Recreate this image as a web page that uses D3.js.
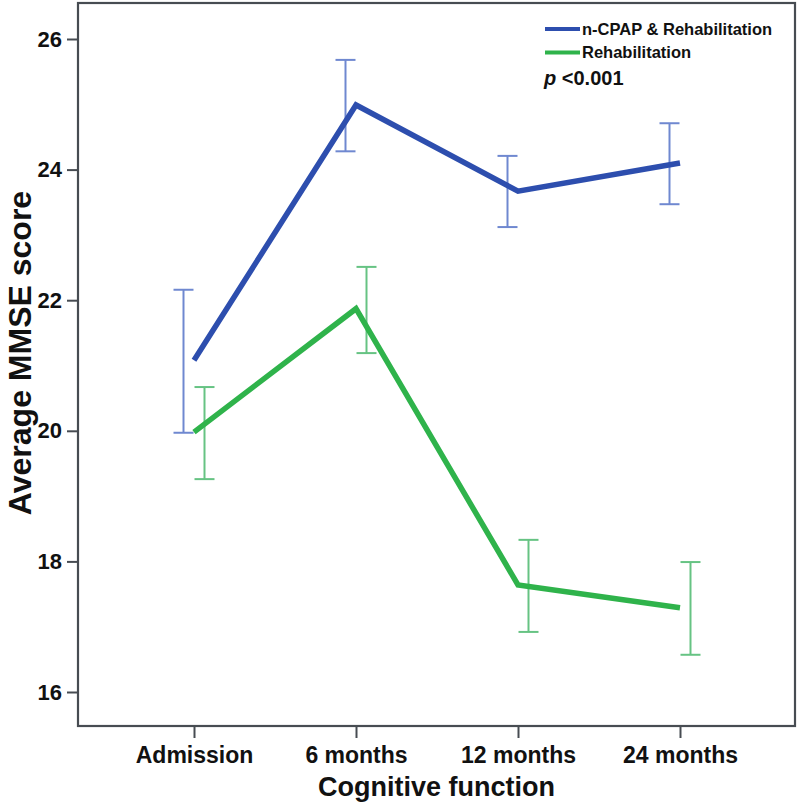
<!DOCTYPE html>
<html><head><meta charset="utf-8">
<script src="https://cdn.jsdelivr.net/npm/d3@7"></script>
<style>
html,body{margin:0;padding:0;background:#fff;}
text{font-family:"Liberation Sans",Arial,sans-serif;font-weight:bold;fill:#111;}
</style></head>
<body><svg id="c" width="800" height="808"></svg>
<script>
const categories = ["Admission","6 months","12 months","24 months"];
const seriesNames = ["n-CPAP & Rehabilitation","Rehabilitation"];
const cpapMean  = [21.08, 24.99, 23.67, 24.10];
const cpapUpper = [22.16, 25.68, 24.21, 24.71];
const cpapLower = [19.97, 24.28, 23.12, 23.47];
const rehabMean  = [19.98, 21.87, 17.64, 17.29];
const rehabUpper = [20.67, 22.51, 18.33, 17.99];
const rehabLower = [19.26, 21.19, 16.92, 16.57];
const yTicks = [16,18,20,22,24,26];
const pText = "<0.001";

const svg = d3.select("#c");
const frame = {l:78, t:3, r:795, b:726};
const x = d3.scalePoint().domain(categories).range([194,680]);
const y = d3.scaleLinear().domain([16,26]).range([692,39]);
const colors = {line:["#2d4eae","#2fb34b"], bar:["#6f88d0","#66c383"]};
const series = [
  {name:seriesNames[0], mean:cpapMean, up:cpapUpper, lo:cpapLower, off:-10.5, line:colors.line[0], bar:colors.bar[0]},
  {name:seriesNames[1], mean:rehabMean, up:rehabUpper, lo:rehabLower, off:10.5, line:colors.line[1], bar:colors.bar[1]}
];

// frame
svg.append("rect").attr("x",frame.l).attr("y",frame.t)
  .attr("width",frame.r-frame.l).attr("height",frame.b-frame.t)
  .attr("fill","none").attr("stroke","#474c52").attr("stroke-width",2.2);

// y axis
const ya = svg.append("g").attr("transform",`translate(${frame.l},0)`)
  .call(d3.axisLeft(y).tickValues(yTicks).tickSize(11).tickPadding(5).tickFormat(d3.format("d")));
ya.select(".domain").remove();
ya.selectAll("line").attr("stroke","#474c52").attr("stroke-width",2);
ya.selectAll("text").style("font-size","22px").attr("fill","#111");

// x axis
const xa = svg.append("g").attr("transform",`translate(0,${frame.b})`)
  .call(d3.axisBottom(x).tickSize(12).tickPadding(9));
xa.select(".domain").remove();
xa.selectAll("line").attr("stroke","#474c52").attr("stroke-width",2);
xa.selectAll("text").style("font-size","23px").attr("fill","#111");

// error bars
series.forEach(s=>{
  const g = svg.append("g");
  categories.forEach((c,i)=>{
    const cx = x(c)+s.off;
    g.append("line").attr("x1",cx).attr("x2",cx).attr("y1",y(s.up[i])).attr("y2",y(s.lo[i]))
      .attr("stroke",s.bar).attr("stroke-width",2);
    [s.up[i],s.lo[i]].forEach(v=>{
      g.append("line").attr("x1",cx-10).attr("x2",cx+10).attr("y1",y(v)).attr("y2",y(v))
        .attr("stroke",s.bar).attr("stroke-width",2);
    });
  });
});

// lines
const line = d3.line().x((d,i)=>x(categories[i])).y(d=>y(d));
series.forEach(s=>{
  svg.append("path").attr("d",line(s.mean)).attr("fill","none")
    .attr("stroke",s.line).attr("stroke-width",5.5).attr("stroke-linejoin","miter");
});

// legend
const lg = svg.append("g");
series.forEach((s,i)=>{
  const ly = 29 + i*23.5;
  lg.append("line").attr("x1",545).attr("x2",580).attr("y1",ly).attr("y2",ly)
    .attr("stroke",s.line).attr("stroke-width",4);
  lg.append("text").attr("x",582).attr("y",ly+5.5).style("font-size","16.5px").text(s.name);
});
const pt = lg.append("text").attr("x",544).attr("y",85).style("font-size","20px");
pt.append("tspan").style("font-style","italic").text("p");
pt.append("tspan").text(" "+pText);

// axis titles
svg.append("text").attr("transform","translate(31,353) rotate(-90)")
  .attr("text-anchor","middle").style("font-size","32px").text("Average MMSE score");
svg.append("text").attr("x",(frame.l+frame.r)/2).attr("y",796)
  .attr("text-anchor","middle").style("font-size","27px").text("Cognitive function");
</script></body></html>
